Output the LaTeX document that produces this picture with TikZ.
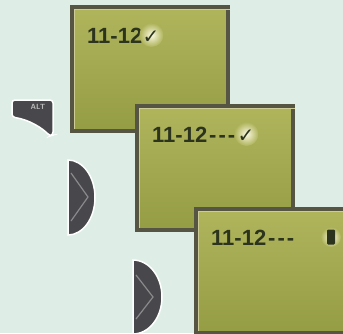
\documentclass[tikz,border=0pt]{standalone}
\usepackage{fontspec}
\usepackage{tikz}

\newfontfamily\lcdfont{Liberation Sans}
\newfontfamily\checkfont{DejaVu Sans}

\definecolor{bgmint}{RGB}{222,238,231}
\definecolor{lcdtop}{RGB}{176,181,92}
\definecolor{lcdbot}{RGB}{148,156,68}
\definecolor{lcdedge}{RGB}{86,84,66}
\definecolor{lcdrim}{RGB}{206,204,150}
\definecolor{lcdink}{RGB}{44,52,30}
\definecolor{lcdglow}{RGB}{252,250,226}
\definecolor{btngray}{RGB}{72,72,76}
\definecolor{btnmark}{RGB}{138,138,140}

\tikzset{
  lcd/.style={rectangle, draw=lcdedge, line width=3.5pt, top color=lcdtop, bottom color=lcdbot,
    minimum width=156pt, minimum height=124pt, anchor=north west, inner sep=0pt, outer sep=0pt},
  lcdtext/.style={font=\lcdfont\bfseries\fontsize{22}{22}\selectfont, text=lcdink, inner sep=0pt, anchor=base west},
  lcdcheck/.style={font=\checkfont\fontsize{20}{20}\selectfont, text=lcdink, inner sep=0pt, anchor=base west},
  glow/.style={inner color=lcdglow, outer color=lcdtop!90!lcdbot},
  btn/.style={fill=btngray, draw=white, line width=1.5pt},
  btnarrow/.style={draw=btnmark, line width=1.2pt}
}

\begin{document}
\begin{tikzpicture}[x=1pt,y=1pt]
  \fill[bgmint] (0,0) rectangle (343,333);
  \useasboundingbox (0,0) rectangle (343,333);
  \clip (0,0) rectangle (343,333);

  % buttons
  \path[btn, rounded corners=3pt] (12,216) -- (12,233) -- (53,233) -- (53,198)
    -- (50,197) .. controls (42,205) and (30,213) .. (12,216) -- cycle;
  \node[font=\sffamily\bfseries\fontsize{7.5}{7.5}\selectfont, text=btnmark!60!white, inner sep=0pt] (alt) at (38,226) {ALT};

  \path[btn] (68,173) arc[start angle=90, end angle=-90, x radius=27, y radius=37.5] -- cycle;
  \draw[btnarrow] (71,160) -- (88,136) -- (71,112);

  \path[btn] (133,73) arc[start angle=90, end angle=-90, x radius=29, y radius=37] -- cycle;
  \draw[btnarrow] (136,58) -- (153,36) -- (136,14);

  % first screen
  \node[lcd] (s1) at (72,326) {};
  \draw[lcdrim, line width=0.8pt] ([shift={(2,-2)}]s1.north east) -- ([shift={(2,-2)}]s1.north west) -- ([shift={(2,2)}]s1.south west);
  \node[lcdtext] (t1) at ([shift={(15,-36)}]s1.north west) {11-12};
  \shade[glow] ([shift={(9,8)}]t1.base east) circle (12);
  \node[lcdcheck] (c1) at ([xshift=0pt]t1.base east) {✓};

  % second screen
  \node[lcd] (s2) at (137,227) {};
  \draw[lcdrim, line width=0.8pt] ([shift={(2,-2)}]s2.north east) -- ([shift={(2,-2)}]s2.north west) -- ([shift={(2,2)}]s2.south west);
  \node[lcdtext] (t2) at ([shift={(15,-36)}]s2.north west) {11-12\kern2pt-\kern2pt-\kern2pt-};
  \shade[glow] ([shift={(11,8)}]t2.base east) circle (12);
  \node[lcdcheck] (c2) at ([xshift=2pt]t2.base east) {✓};

  % third screen
  \node[lcd] (s3) at (196,124) {};
  \draw[lcdrim, line width=0.8pt] ([shift={(2,-2)}]s3.north east) -- ([shift={(2,-2)}]s3.north west) -- ([shift={(2,2)}]s3.south west);
  \node[lcdtext] (t3) at ([shift={(15,-36)}]s3.north west) {11-12\kern2pt-\kern2pt-\kern2pt-};
  \shade[glow] ([shift={(135,8)}]s3.west |- t3.base) circle (10);
  \node[rectangle, fill=lcdink, rounded corners=1.2pt, minimum width=8pt, minimum height=15pt, inner sep=0pt] (bar3) at ([shift={(135,8)}]s3.west |- t3.base) {};
\end{tikzpicture}
\end{document}
